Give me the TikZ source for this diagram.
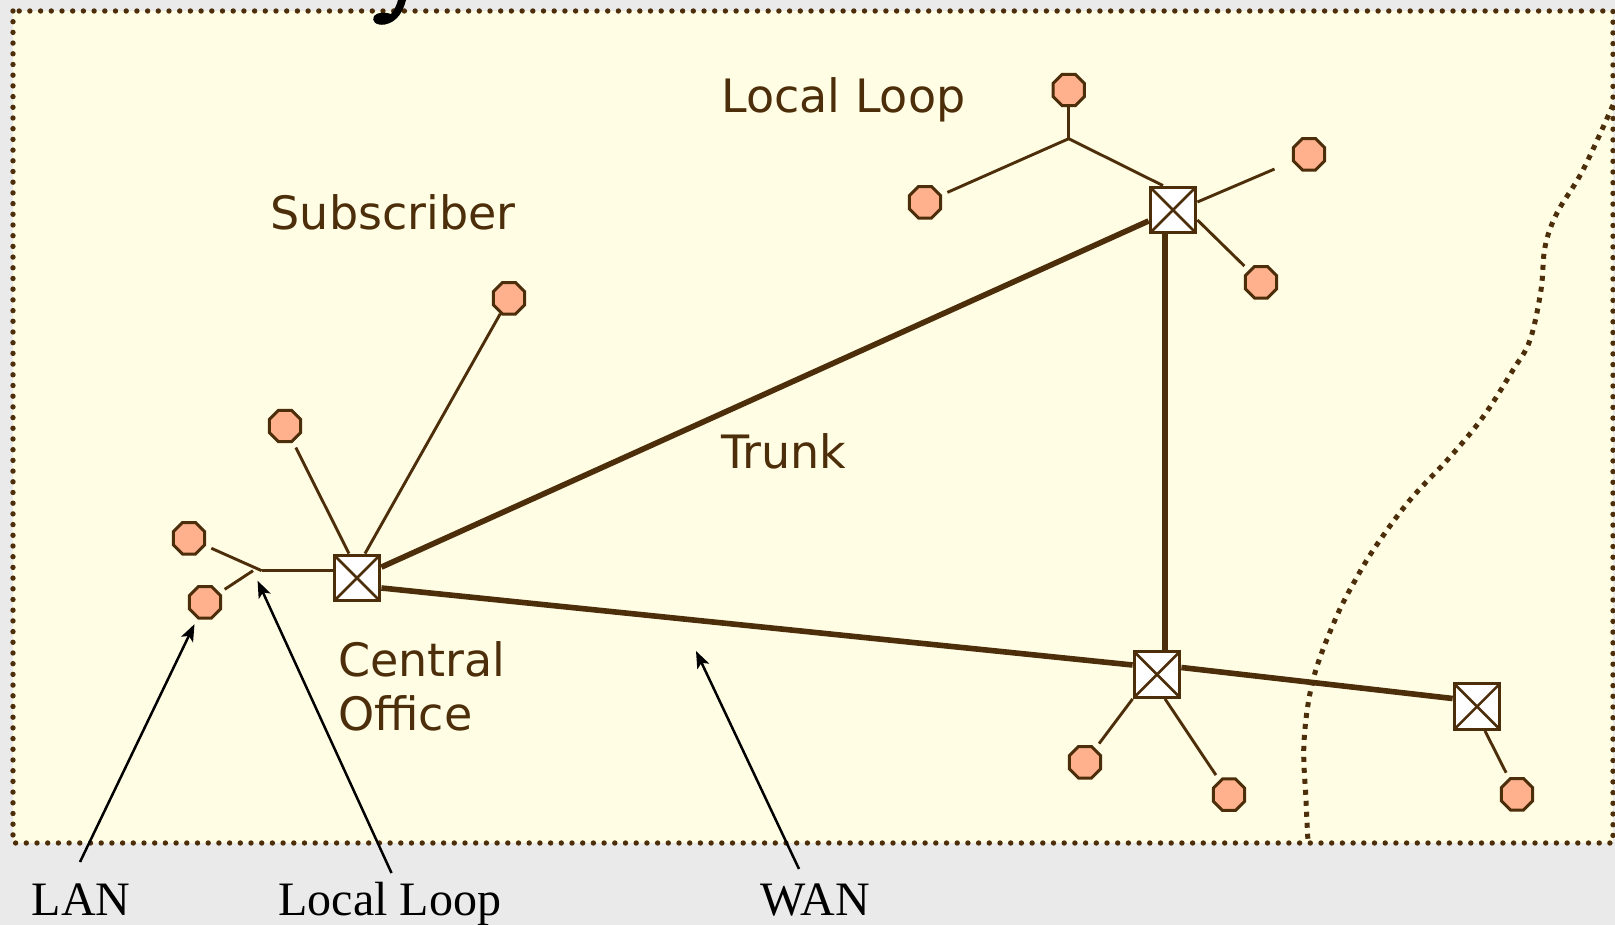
\documentclass[tikz,border=0pt]{standalone}
\usepackage{fontspec}
\setmainfont{Liberation Serif}
\newfontfamily\lblfont{DejaVu Sans}
\usetikzlibrary{shapes.geometric,arrows.meta,calc}
\definecolor{brn}{HTML}{4D2E0A}
\definecolor{cream}{HTML}{FFFDE4}
\definecolor{bggray}{HTML}{EAEAEA}
\definecolor{salmon}{HTML}{FFB08C}
\begin{document}
\begin{tikzpicture}[x=1pt,y=-1pt,
  oct/.style={regular polygon, regular polygon sides=8, minimum size=34pt, inner sep=0pt, draw=brn, fill=salmon, line width=3pt},
  sw/.style={rectangle, draw=brn, fill=white, minimum size=45.5pt, inner sep=0pt, line width=3.3pt,
    path picture={\draw[brn, line width=2.5pt] (path picture bounding box.north west) -- (path picture bounding box.south east) (path picture bounding box.north east) -- (path picture bounding box.south west);}},
  spoke/.style={draw=brn, line width=2.9pt},
  trunk/.style={draw=brn, line width=5.6pt},
  lbl/.style={text=brn, font=\lblfont\fontsize{46pt}{52pt}\selectfont, inner sep=0pt, anchor=base west},
  captxt/.style={text=black, font=\fontsize{48pt}{54pt}\selectfont, inner sep=0pt, anchor=base west},
  ptr/.style={draw=black, line width=2.5pt, -{Stealth[length=17pt,width=13pt,inset=4pt]}},
]
\useasboundingbox (0,0) rectangle (1615,925);
\fill[bggray] (0,0) rectangle (1615,925);
\fill[cream] (13,11) rectangle (1613,843);
\draw[brn, line width=5.4pt, line cap=round, dash pattern=on 0pt off 10.7pt] (13,11) rectangle (1613,843);

% cut-off title descender
\fill[black] (398,0) -- (406,0) .. controls (403,12) and (397,22) .. (385,24.5)
  .. controls (376,26) and (371,21) .. (374,16) .. controls (377,12) and (386,12) .. (391,14)
  .. controls (395,9) and (397,4) .. (398,0) -- cycle;

% boundary curve
\draw[brn, line width=5pt, dash pattern=on 5pt off 6pt] plot[smooth, tension=0.6] coordinates {(1613,105) (1583,170) (1557,213) (1545,247) (1541,290) (1530,340) (1513,370) (1483,417) (1450,457) (1410,500) (1378,543) (1357,577) (1335,620) (1313,680) (1304,742) (1306,800) (1308,842)};

% switches
\node[sw] (co) at (357,578) {};
\node[sw] (s1) at (1173,210) {};
\node[sw] (s2) at (1157,674.5) {};
\node[sw] (s3) at (1477,706.5) {};

% subscribers
\node[oct] (o1) at (189,538.3) {};
\node[oct] (o2) at (205,602.3) {};
\node[oct] (o3) at (285,426) {};
\node[oct] (o4) at (509,298.3) {};
\node[oct] (o5) at (1068.7,90) {};
\node[oct] (o6) at (925,202.3) {};
\node[oct] (o7) at (1309,154.3) {};
\node[oct] (o8) at (1261,282.3) {};
\node[oct] (o9) at (1085,762.3) {};
\node[oct] (o10) at (1229,794.7) {};
\node[oct] (o11) at (1517,794.3) {};

\coordinate (j1) at (261.7,570.7);
\coordinate (j2) at (253,570.7);
\coordinate (j3) at (1068.7,138.7);

% trunks
\draw[trunk] (co) -- (s1);
\draw[trunk] ($(co.east)+(0,10)$) -- ($(s2.west)+(0,-9.5)$);
\draw[trunk] ($(s2.east)+(0,-7)$) -- ($(s3.west)+(0,-8)$);
\coordinate (vx) at ($(s1.south)!0.5!(s2.north)$);
\draw[trunk] (vx |- s1.south) -- (vx |- s2.north);

% local loops
\draw[spoke] (j1) -- (j1 -| co.west);
\draw[spoke, shorten <=6pt] (o1) -- (j1);
\draw[spoke, shorten <=6pt] (o2) -- (j2);
\draw[spoke] ($(co.north)+(8,0)$) -- (o4);
\draw[spoke, shorten >=6pt] ($(co.north)+(-8,0)$) -- (o3);
\draw[spoke] (o5) -- (j3);
\draw[spoke, shorten >=6pt] (j3) -- (o6);
\draw[spoke] (j3) -- ($(s1.north)+(-10,0)$);
\draw[spoke, shorten >=19pt] ($(s1.east)+(0,-8)$) -- (o7);
\draw[spoke, shorten >=6pt] ($(s1.east)+(0,10)$) -- (o8);
\draw[spoke, shorten >=6pt] (s2.south west) -- (o9);
\draw[spoke, shorten >=6pt] ($(s2.south)+(8,0)$) -- (o10);
\draw[spoke, shorten >=6pt] ($(s3.south)+(8,0)$) -- (o11);

% labels
\node[lbl] (tLL) at (721,113) {Local Loop};
\node[lbl] (tSub) at (270.5,229.5) {Subscriber};
\node[lbl] (tTr) at (721,468) {Trunk};
\node[lbl] (tCe) at (338,676.5) {Central};
\node[lbl] (tOf) at (338,730) {Office};

% bottom captions
\node[captxt] (lan) at (31.6,915) {LAN};
\node[captxt] (ll) at (278.4,915) {Local Loop};
\node[captxt] (wan) at (760.6,915) {WAN};

\coordinate (lanT) at (80,862);
\coordinate (llT) at (391.5,873);
\coordinate (wanT) at (799,869);
\coordinate (wanH) at (696,651);
\draw[ptr, shorten >=6pt] (lanT) -- (o2);
\draw[ptr, shorten >=11pt] (llT) -- (j2);
\draw[ptr] (wanT) -- (wanH);
\end{tikzpicture}
\end{document}
